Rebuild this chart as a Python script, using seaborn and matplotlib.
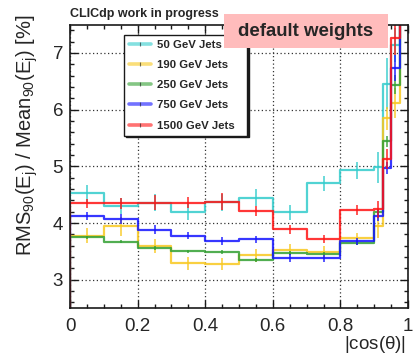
import numpy as np
import pandas as pd
import matplotlib
matplotlib.use("Agg")
import matplotlib.pyplot as plt
import seaborn as sns
from matplotlib.lines import Line2D
from matplotlib.patches import Rectangle
from matplotlib.ticker import MultipleLocator

# |cos(theta)| binning: coarse in the barrel, finer towards the forward region
bin_edges = [0.0, 0.1, 0.2, 0.3, 0.4, 0.5, 0.6, 0.7, 0.8, 0.9, 0.925, 0.95, 0.975, 1.0]

series_labels = ["50 GeV Jets", "190 GeV Jets", "250 GeV Jets", "750 GeV Jets", "1500 GeV Jets"]
series_colors = ["#33cccc", "#f8c820", "#33a033", "#1414ff", "#ff1414"]

# RMS90 / Mean90 [%] per bin (last bin is above the plotted range)
res_50 = [4.53, 4.30, 4.36, 4.20, 4.37, 4.45, 4.19, 4.70, 4.93, 4.98, 6.46, 7.14, 9.5]
res_190 = [3.78, 3.94, 3.59, 3.29, 3.28, 3.43, 3.53, 3.49, 3.73, 3.94, 5.85, 6.12, 9.0]
res_250 = [3.75, 3.67, 3.56, 3.50, 3.49, 3.35, 3.47, 3.46, 3.65, 4.19, 5.44, 6.44, 9.0]
res_750 = [4.13, 4.07, 3.88, 3.78, 3.69, 3.71, 3.38, 3.38, 3.68, 4.13, 4.97, 6.73, 9.0]
res_1500 = [4.35, 4.35, 4.36, 4.36, 4.38, 4.21, 3.89, 3.72, 4.23, 4.24, 5.13, 7.26, 9.0]

# statistical uncertainties per bin
err_50 = [0.15, 0.14, 0.15, 0.14, 0.15, 0.15, 0.13, 0.13, 0.15, 0.27, 0.45, 0.30, 0.5]
err_190 = [0.14, 0.17, 0.12, 0.11, 0.10, 0.11, 0.10, 0.10, 0.10, 0.20, 0.20, 0.27, 0.5]
err_250 = [0.03, 0.03, 0.03, 0.03, 0.03, 0.03, 0.03, 0.03, 0.03, 0.06, 0.09, 0.17, 0.5]
err_750 = [0.07, 0.09, 0.08, 0.07, 0.07, 0.07, 0.07, 0.06, 0.06, 0.10, 0.10, 0.23, 0.5]
err_1500 = [0.08, 0.10, 0.13, 0.10, 0.15, 0.09, 0.08, 0.07, 0.08, 0.15, 0.17, 0.30, 0.5]

all_values = [res_50, res_190, res_250, res_750, res_1500]
all_errors = [err_50, err_190, err_250, err_750, err_1500]

sns.set_theme(style="ticks")
plt.rcParams["font.family"] = ["Liberation Sans", "DejaVu Sans"]
plt.rcParams["mathtext.fontset"] = "custom"
plt.rcParams["mathtext.rm"] = "Liberation Sans"
plt.rcParams["mathtext.it"] = "Liberation Sans"
plt.rcParams["mathtext.default"] = "regular"

fig, ax = plt.subplots(figsize=(4.13, 3.57), dpi=100)
fig.subplots_adjust(left=0.1695, right=0.988, top=0.931, bottom=0.137)

edges = np.array(bin_edges)
centers = 0.5 * (edges[:-1] + edges[1:])

for label, color, vals, errs in zip(series_labels, series_colors, all_values, all_errors):
    df = pd.DataFrame({"cos_theta": centers, "resolution": vals})
    sns.histplot(data=df, x="cos_theta", weights="resolution", bins=bin_edges,
                 element="step", fill=False, color=color, linewidth=1.6,
                 alpha=0.85, ax=ax)
    # histogram outline rises from the baseline at the first edge
    ax.vlines(bin_edges[0], 0, vals[0], color=color, linewidth=1.6, alpha=0.85)
    ax.errorbar(centers, vals, yerr=errs, fmt="none", ecolor=color,
                elinewidth=1.2, capsize=0, alpha=0.85)

ax.set_xlim(0, 1)
ax.set_ylim(2.5, 7.5)
ax.xaxis.set_major_locator(MultipleLocator(0.2))
ax.xaxis.set_minor_locator(MultipleLocator(0.05))
ax.yaxis.set_major_locator(MultipleLocator(1))
ax.yaxis.set_minor_locator(MultipleLocator(0.2))
ax.set_xticks([0, 0.2, 0.4, 0.6, 0.8, 1.0], ["0", "0.2", "0.4", "0.6", "0.8", "1"])

ax.tick_params(which="both", direction="in", top=True, right=True, width=1, color="k")
ax.tick_params(which="major", length=6)
ax.tick_params(which="minor", length=3)
ax.tick_params(axis="x", which="major", pad=7, labelsize=13.5)
ax.tick_params(axis="y", which="major", pad=5, labelsize=13.5)
for side in ax.spines.values():
    side.set_linewidth(1.2)
    side.set_color("k")

ax.grid(True, which="major", linestyle=(0, (1, 2)), color="#333333", linewidth=0.9)

ax.set_ylabel(r"RMS$_{90}$(E$_{j}$) / Mean$_{90}$(E$_{j}$) [%]", fontsize=14.5, loc="top")
ax.yaxis.set_label_coords(-0.09, 1.035)
ax.set_xlabel(r"|cos($\theta$)|", fontsize=13.5, loc="right")
ax.xaxis.set_label_coords(0.994, -0.09)

handles = [Line2D([], [], color=c, lw=2.6, alpha=0.6, marker="|", markersize=3,
                  markeredgecolor="k", markeredgewidth=0.8)
           for c in series_colors]
leg = ax.legend(handles, series_labels, loc="upper left",
                bbox_to_anchor=(0.16, 0.595, 0.364, 0.37), mode="expand",
                borderaxespad=0, borderpad=0.45, handlelength=1.9,
                handletextpad=0.5, labelspacing=0.9, fancybox=False,
                framealpha=1, edgecolor="k",
                shadow={"ox": 1.2, "oy": -1.2, "color": "k", "alpha": 1},
                prop={"weight": "bold", "size": 8.2})
leg.get_frame().set_linewidth(1.0)

fig.text(70 / 413, 1 - 14 / 357, "CLICdp work in progress", ha="left", va="center",
         fontsize=9, fontweight="bold")
fig.add_artist(Rectangle((224 / 413, 1 - 48 / 357), 164 / 413, 34 / 357,
                         transform=fig.transFigure, facecolor="#ffbcbc",
                         edgecolor="none", zorder=5))
fig.text(306 / 413, 1 - 31 / 357, "default weights", ha="center", va="center",
         fontsize=13.4, fontweight="bold", zorder=6)

fig.savefig("out.png", dpi=100)
